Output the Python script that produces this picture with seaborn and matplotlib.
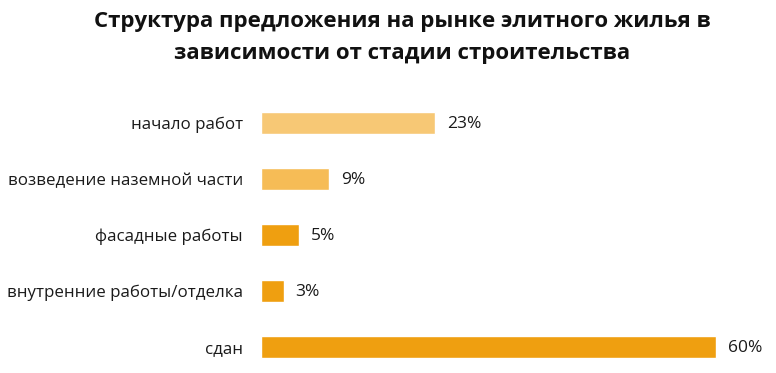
import matplotlib
matplotlib.use("Agg")
import matplotlib.pyplot as plt
import seaborn as sns
import pandas as pd

# data
stages = ["начало работ", "возведение наземной части", "фасадные работы",
          "внутренние работы/отделка", "сдан"]
shares = [23, 9, 5, 3, 60]
colors = ["#F7C875", "#F6BC56", "#EF9F10", "#EF9F10", "#EF9F10"]

df = pd.DataFrame({"stage": stages, "share": shares})

sns.set_theme(style="white")
plt.rcParams["font.family"] = ["Open Sans", "DejaVu Sans"]

fig = plt.figure(figsize=(7.76, 3.73), dpi=100)
ax = fig.add_axes([261 / 776, 1 - 375 / 373, (754 - 261) / 776, (375 - 95) / 373])

sns.barplot(data=df, x="share", y="stage", hue="stage", palette=colors,
            legend=False, width=0.41, ax=ax, saturation=1)

for i, v in enumerate(shares):
    ax.text(v + 1.55, i + 0.02, f"{v}%", va="center", ha="left", fontsize=12.5, color="#1a1a1a")

ax.set_xlim(0, 65)
ax.set_ylim(4.5, -0.5)
ax.set_xlabel("")
ax.set_ylabel("")
ax.set_xticks([])
ax.tick_params(axis="y", length=0, pad=13, labelsize=12.2, labelcolor="#1a1a1a")
sns.despine(ax=ax, left=True, bottom=True)

fig.text(402 / 776, 1 - 21 / 373, "Структура предложения на рынке элитного жилья в",
         ha="center", va="center", fontsize=16, fontweight="bold", color="#111111")
fig.text(402 / 776, 1 - 54 / 373, "зависимости от стадии строительства",
         ha="center", va="center", fontsize=16, fontweight="bold", color="#111111")

fig.savefig("out.png", dpi=100)
